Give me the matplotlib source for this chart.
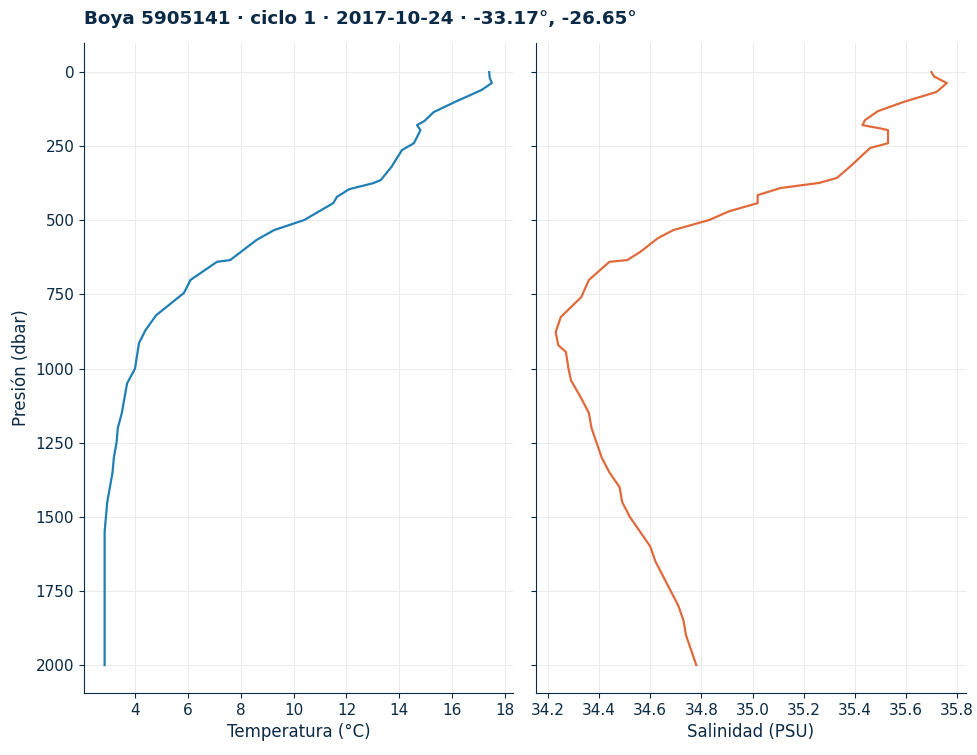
import matplotlib
matplotlib.use("Agg")
import matplotlib.pyplot as plt

temp_p = [0, 20, 37, 61, 101, 135, 165, 179, 196, 240, 263, 320, 364, 375, 395, 421, 442, 499, 533, 566, 634, 640, 701, 745,
          820, 870, 914, 971, 1000, 1050, 1100, 1150, 1200, 1250, 1300, 1350, 1400, 1450, 1500, 1550, 1700, 2000]
temp_v = [17.4, 17.42, 17.5, 17.1, 16.1, 15.3, 14.95, 14.67, 14.8, 14.55, 14.1, 13.7, 13.3, 13.0, 12.1, 11.64, 11.5,
          10.4, 9.26, 8.6, 7.6, 7.1, 6.1, 5.85, 4.8, 4.4, 4.15, 4.05, 4.0, 3.7, 3.6, 3.5, 3.35, 3.3, 3.2, 3.15, 3.05,
          2.95, 2.9, 2.85, 2.85, 2.85]

sal_p = [0, 15, 37, 67, 101, 132, 162, 179, 190, 196, 240, 256, 320, 357, 374, 391, 415, 442, 469, 499, 533,
         560, 607, 634, 640, 701, 759, 826, 877, 921, 944, 1000, 1040, 1100, 1150, 1200, 1250, 1300, 1350,
         1400, 1450, 1500, 1550, 1600, 1650, 1700, 1750, 1800, 1850, 1900, 1950, 2000]
sal_v = [35.70, 35.71, 35.76, 35.72, 35.59, 35.49, 35.44, 35.43, 35.5, 35.53, 35.53, 35.46, 35.38, 35.33, 35.26,
         35.11, 35.02, 35.02, 34.91, 34.83, 34.69, 34.63, 34.56, 34.51, 34.44, 34.36, 34.33, 34.25, 34.23, 34.24,
         34.27, 34.28, 34.29, 34.33, 34.36, 34.37, 34.39, 34.41, 34.44, 34.48, 34.49, 34.52, 34.56, 34.6, 34.62,
         34.65, 34.68, 34.71, 34.73, 34.74, 34.76, 34.78]

navy = "#0b2a45"
fig = plt.figure(figsize=(9.78, 7.55), dpi=100)
ax1 = fig.add_axes([84/978, 1-693/755, 429/978, 650/755])
ax2 = fig.add_axes([536/978, 1-693/755, 430/978, 650/755], sharey=ax1)

ax1.plot(temp_v, temp_p, color="#1f7fb4", lw=1.6)
ax2.plot(sal_v, sal_p, color="#e06a3b", lw=1.6)
ax1.set_xlim(2.07, 18.3)
ax2.set_xlim(34.153, 35.835)
ax1.set_xticks(range(4, 19, 2))
ax2.set_xticks([34.2 + 0.2*i for i in range(9)])
ax1.set_ylim(2094, -98)
ax1.set_yticks(range(0, 2001, 250))
ax2.tick_params(labelleft=False)
for ax in (ax1, ax2):
    ax.grid(True, color="#ebebeb", lw=0.7)
    ax.set_axisbelow(True)
    for s in ("top", "right"):
        ax.spines[s].set_visible(False)
    for s in ("left", "bottom"):
        ax.spines[s].set_color(navy)
    ax.tick_params(colors=navy, labelsize=11, labelcolor=navy)
ax2.set_xticklabels([f"{34.2 + 0.2*i:.1f}" for i in range(9)])
ax1.set_xlabel("Temperatura (°C)", fontsize=12, color=navy)
ax2.set_xlabel("Salinidad (PSU)", fontsize=12, color=navy)
ax1.set_ylabel("Presión (dbar)", fontsize=12, color=navy)
fig.text(84/978, 1-19/755, "Boya 5905141 · ciclo 1 · 2017-10-24 · -33.17°, -26.65°",
         fontsize=13.2, fontweight="bold", color=navy, va="center", ha="left")
fig.savefig("out.png", dpi=100)
